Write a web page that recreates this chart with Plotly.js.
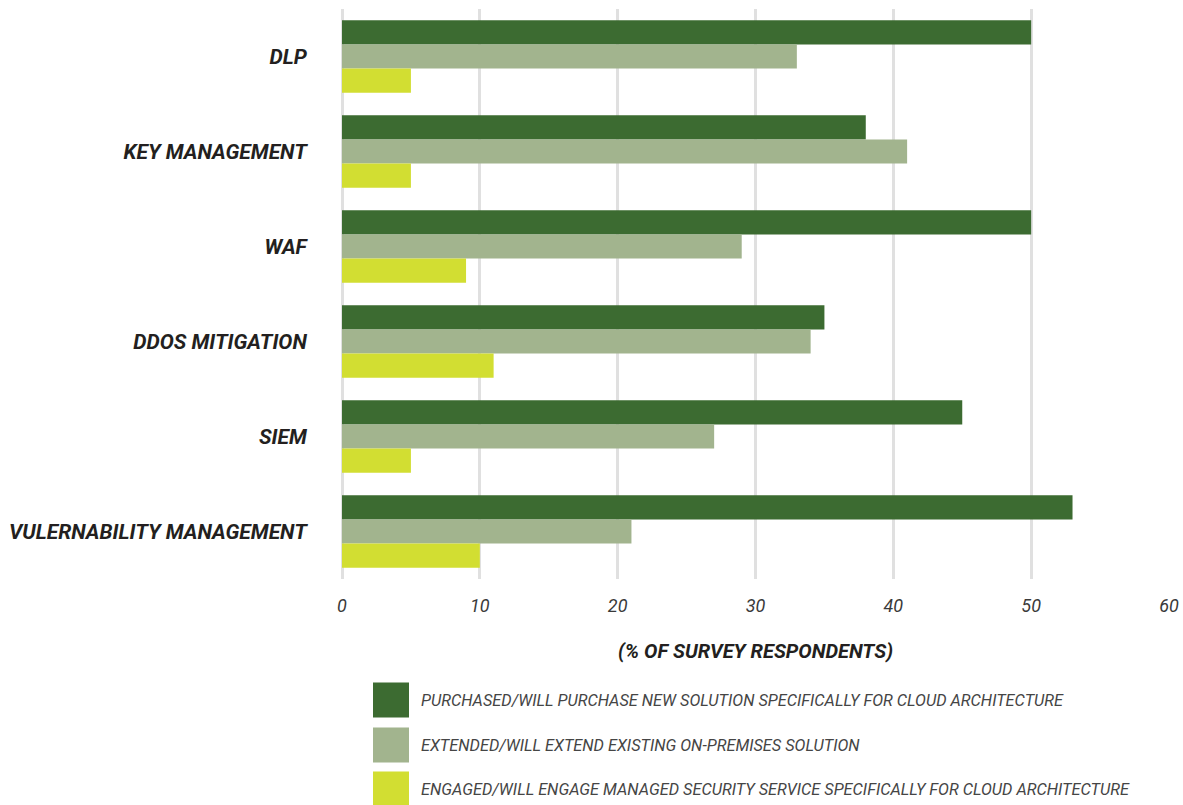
<!DOCTYPE html>
<html>
<head>
<meta charset="utf-8">
<script src="https://cdn.plot.ly/plotly-3.0.1.min.js"></script>
<style>
  html, body { margin: 0; padding: 0; background: #ffffff; }
  #chart { width: 1183px; height: 805px; }
</style>
</head>
<body>
<div id="chart"></div>
<script>
// ---- data ----
const categories = ["DLP", "KEY MANAGEMENT", "WAF", "DDOS MITIGATION", "SIEM", "VULERNABILITY MANAGEMENT"];
const seriesNames = [
  "PURCHASED/WILL PURCHASE NEW SOLUTION SPECIFICALLY FOR CLOUD ARCHITECTURE",
  "EXTENDED/WILL EXTEND EXISTING ON-PREMISES SOLUTION",
  "ENGAGED/WILL ENGAGE MANAGED SECURITY SERVICE SPECIFICALLY FOR CLOUD ARCHITECTURE"
];
const purchasedValues = [50, 38, 50, 35, 45, 53];
const extendedValues  = [33, 41, 29, 34, 27, 21];
const engagedValues   = [5, 5, 9, 11, 5, 10];
const seriesColors = ["#3c6b31", "#a2b48e", "#d2de32"];
const xTickValues = [0, 10, 20, 30, 40, 50, 60];
const xAxisTitle = "(% OF SURVEY RESPONDENTS)";

// ---- layout geometry ----
const W = 1183, H = 805;
const M = { l: 342, r: 14, t: 9, b: 226 };
const plotW = W - M.l - M.r, plotH = H - M.t - M.b;
const pxX = px => (px - M.l) / plotW;
const pxY = py => (H - M.b - py) / plotH;

const seriesValues = [purchasedValues, extendedValues, engagedValues];
const traces = seriesValues.map((vals, i) => ({
  type: "bar",
  orientation: "h",
  name: seriesNames[i],
  y: categories,
  x: vals,
  marker: { color: seriesColors[i], line: { width: 0 } },
  showlegend: false,
  hoverinfo: "x+name"
}));

// custom legend (large squares) built from series arrays
const shapes = [];
const annotations = [];
const legendRowCenters = [700, 745, 789];
seriesNames.forEach((name, i) => {
  const cy = legendRowCenters[i];
  shapes.push({
    type: "rect", xref: "paper", yref: "paper",
    x0: pxX(373), x1: pxX(409), y0: pxY(cy + 17.5), y1: pxY(cy - 17.5),
    fillcolor: seriesColors[i], line: { width: 0 }
  });
  annotations.push({
    xref: "paper", yref: "paper", x: pxX(419), y: pxY(cy),
    xanchor: "left", yanchor: "middle", showarrow: false,
    text: "<i>" + name + "</i>",
    font: { family: "Roboto, 'Open Sans', sans-serif", size: 16.3, color: "#454545" }
  });
});

const layout = {
  width: W, height: H,
  margin: M,
  paper_bgcolor: "#ffffff",
  plot_bgcolor: "#ffffff",
  barmode: "group",
  bargap: 0.237,
  bargroupgap: 0,
  font: { family: "Roboto, 'Open Sans', sans-serif", color: "#333333" },
  xaxis: {
    range: [0, 60],
    tickvals: xTickValues,
    ticktext: xTickValues.map(v => "<i>" + v + "</i>"),
    tickfont: { size: 18, color: "#3a3a3a" },
    showgrid: true, gridcolor: "#e0e0e0", gridwidth: 3,
    zeroline: true, zerolinecolor: "#e0e0e0", zerolinewidth: 3,
    showline: false,
    ticks: "outside", ticklen: 10, tickcolor: "rgba(0,0,0,0)",
    fixedrange: true,
    title: {
      text: "<b><i>" + xAxisTitle + "</i></b>",
      font: { size: 20, color: "#231f20" },
      standoff: 29
    }
  },
  yaxis: {
    type: "category",
    autorange: "reversed",
    tickvals: categories,
    ticktext: categories.map(c => "<b><i>" + c + "</i></b>"),
    tickfont: { size: 21, color: "#231f20" },
    showgrid: false, zeroline: false, showline: false,
    ticks: "outside", ticklen: 30, tickcolor: "rgba(0,0,0,0)",
    fixedrange: true
  },
  shapes: shapes,
  annotations: annotations,
  showlegend: false
};

Plotly.newPlot("chart", traces, layout, { displayModeBar: false, staticPlot: true });
</script>
</body>
</html>
